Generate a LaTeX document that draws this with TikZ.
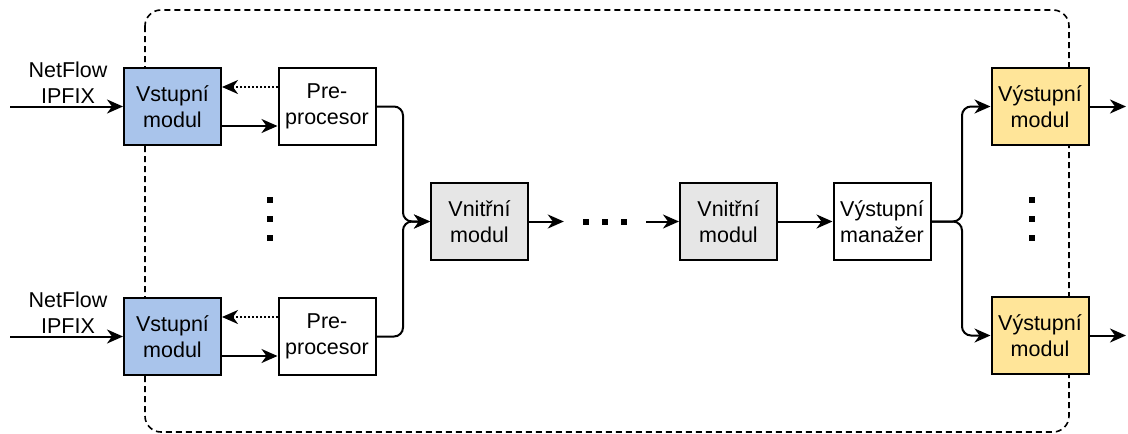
\documentclass[tikz,border=0pt]{standalone}
\usepackage{fontspec}
\setmainfont{Liberation Sans}
\usetikzlibrary{arrows.meta}
\definecolor{inblue}{HTML}{A9C4EB}
\definecolor{ingray}{HTML}{E6E6E6}
\definecolor{outyel}{HTML}{FFE599}
\begin{document}
\begin{tikzpicture}[x=1pt,y=-1pt,
  font=\fontsize{21.5}{26}\selectfont,
  box/.style={draw=black,line width=2pt,minimum width=97pt,minimum height=77pt,inner sep=1pt,align=center},
  conn/.style={line width=2pt,-{Stealth[length=16pt,width=14pt,inset=5pt]}},
  dotconn/.style={conn,dotted},
  dotsq/.style={fill=black,minimum size=6pt,inner sep=0pt}]
\useasboundingbox (0,0) rectangle (1128,434);
\draw[line width=1.6pt,dash pattern=on 6pt off 4pt,rounded corners=16pt] (145,10) rectangle (1069,432);

\node[box,fill=inblue] (vst1) at (172.5,106.5) {Vstupní\\modul};
\node[box,fill=inblue] (vst2) at (172.5,336.5) {Vstupní\\modul};
\node[box,fill=white] (pre1) at (327,106.5) {Pre-\\procesor};
\node[box,fill=white] (pre2) at (327,336.5) {Pre-\\procesor};
\node[box,fill=ingray] (vn1) at (479.5,221.5) {Vnitřní\\modul};
\node[box,fill=ingray] (vn2) at (728.5,221.5) {Vnitřní\\modul};
\node[box,fill=white] (man) at (882,221.5) {Výstupní\\manažer};
\node[box,fill=outyel] (vy1) at (1040,106.5) {Výstupní\\modul};
\node[box,fill=outyel] (vy2) at (1040,335.5) {Výstupní\\modul};

\node[align=center,inner sep=0pt] (nf1) at (68,83) {NetFlow\\IPFIX};
\node[align=center,inner sep=0pt] (nf2) at (68,313) {NetFlow\\IPFIX};

\coordinate (in1) at (10,106.5);
\coordinate (in2) at (10,336.5);
\coordinate (out1) at (1126,106.5);
\coordinate (out2) at (1126,335.5);

\node[inner xsep=19pt,inner ysep=0pt] (hd) at (605,221.5) {\rule{6pt}{6pt}\hspace{13pt}\rule{6pt}{6pt}\hspace{13pt}\rule{6pt}{6pt}};

\node[dotsq] (d1) at (270,200) {};
\node[dotsq] (d2) at (270,219) {};
\node[dotsq] (d3) at (270,238) {};
\node[dotsq] (d4) at (1032,200) {};
\node[dotsq] (d5) at (1032,219) {};
\node[dotsq] (d6) at (1032,238) {};

\draw[conn] (in1) -- (vst1.west);
\draw[conn] (in2) -- (vst2.west);
\draw[conn] ([yshift=-19.5pt]vst1.east) -- ([yshift=-19.5pt]pre1.west);
\draw[conn] ([yshift=-19.5pt]vst2.east) -- ([yshift=-19.5pt]pre2.west);
\draw[dotconn] ([yshift=19.5pt]pre1.west) -- ([yshift=19.5pt]vst1.east);
\draw[dotconn] ([yshift=19.5pt]pre2.west) -- ([yshift=19.5pt]vst2.east);
\draw[conn,rounded corners=9pt] (pre1.east) -- (403,106.5) |- (vn1.west);
\draw[conn,rounded corners=9pt] (pre2.east) -- (403,336.5) |- (vn1.west);
\draw[conn] (vn1.east) -- (hd.west);
\draw[conn] (hd.east) -- (vn2.west);
\draw[conn] (vn2.east) -- (man.west);
\draw[conn,rounded corners=9pt] (man.east) -- (962,221.5) |- (vy1.west);
\draw[conn,rounded corners=9pt] (man.east) -- (962,221.5) |- (vy2.west);
\draw[conn] (vy1.east) -- (out1);
\draw[conn] (vy2.east) -- (out2);
\end{tikzpicture}
\end{document}
